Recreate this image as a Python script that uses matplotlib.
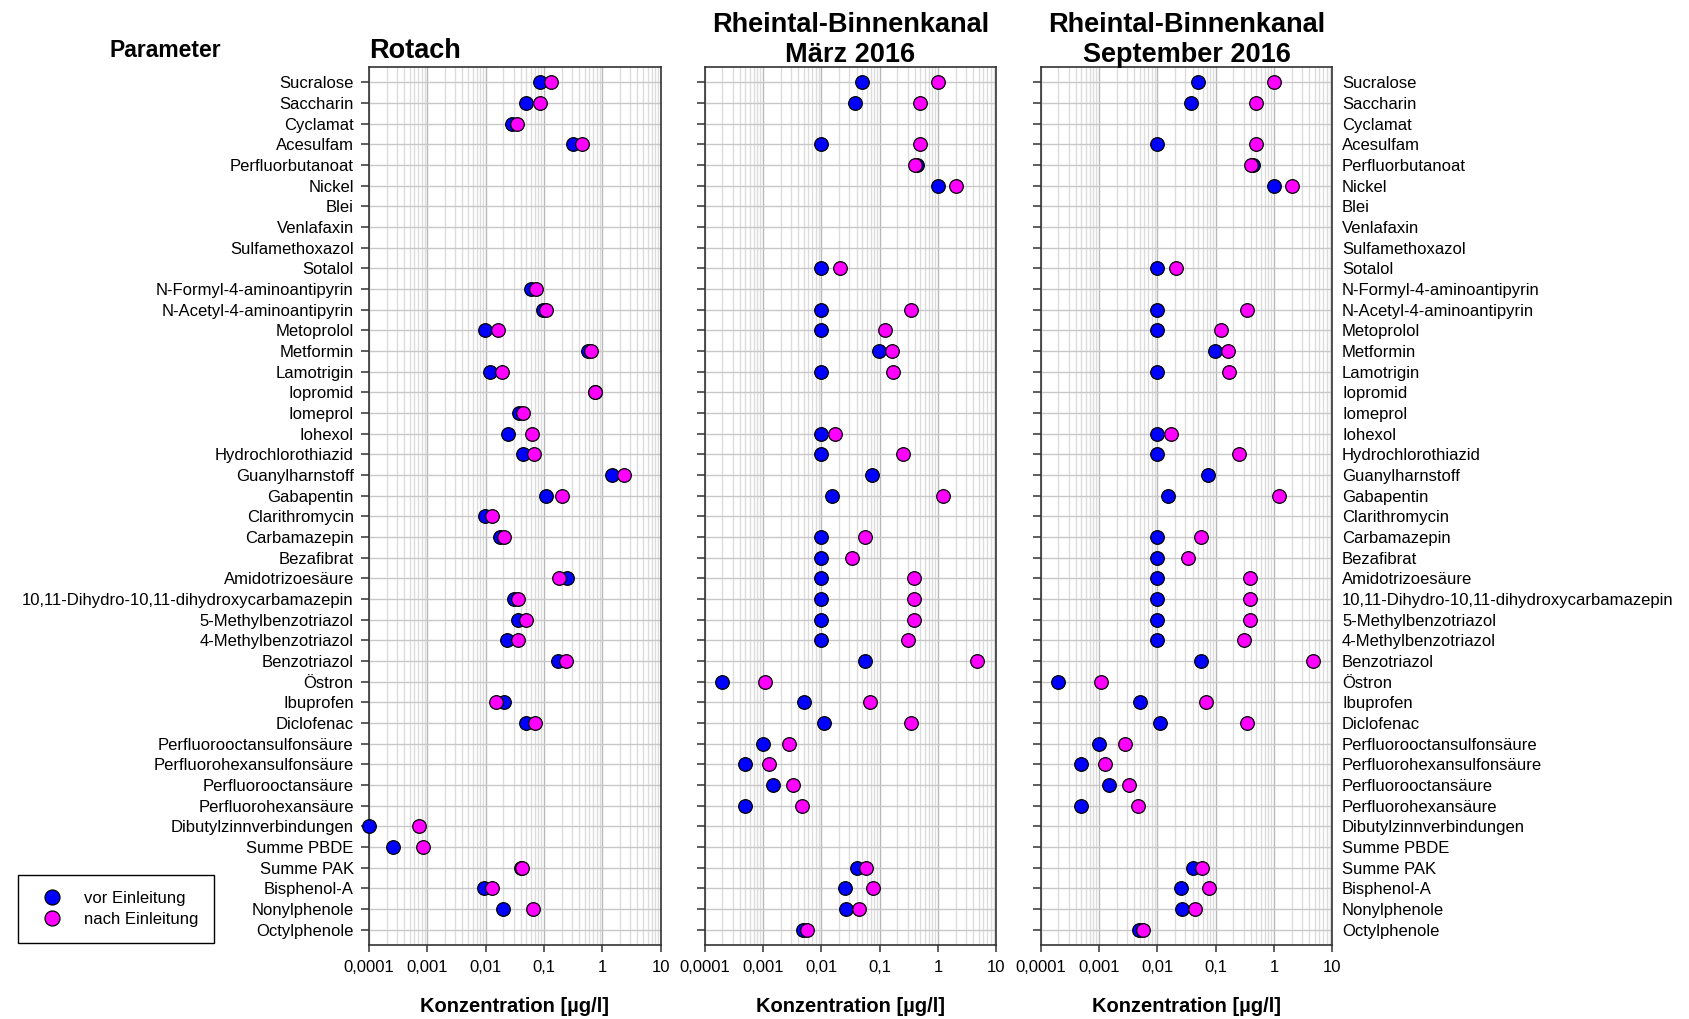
import numpy as np
import matplotlib
matplotlib.use("Agg")
import matplotlib.pyplot as plt
from matplotlib.ticker import LogLocator, NullFormatter

plt.rcParams['font.family'] = ['Liberation Sans', 'DejaVu Sans']

N = np.nan

parameter = ['Sucralose', 'Saccharin', 'Cyclamat', 'Acesulfam', 'Perfluorbutanoat',
             'Nickel', 'Blei', 'Venlafaxin', 'Sulfamethoxazol', 'Sotalol',
             'N-Formyl-4-aminoantipyrin', 'N-Acetyl-4-aminoantipyrin', 'Metoprolol',
             'Metformin', 'Lamotrigin', 'Iopromid', 'Iomeprol', 'Iohexol',
             'Hydrochlorothiazid', 'Guanylharnstoff', 'Gabapentin', 'Clarithromycin',
             'Carbamazepin', 'Bezafibrat', 'Amidotrizoesäure',
             '10,11-Dihydro-10,11-dihydroxycarbamazepin', '5-Methylbenzotriazol',
             '4-Methylbenzotriazol', 'Benzotriazol', 'Östron', 'Ibuprofen', 'Diclofenac',
             'Perfluorooctansulfonsäure', 'Perfluorohexansulfonsäure',
             'Perfluorooctansäure', 'Perfluorohexansäure', 'Dibutylzinnverbindungen',
             'Summe PBDE', 'Summe PAK', 'Bisphenol-A', 'Nonylphenole', 'Octylphenole']

# Konzentrationen in µg/l, N = nicht bestimmt
rotach_vor  = [0.085, 0.049, 0.028, 0.31, N, N, N, N, N, N,
               0.059, 0.095, 0.0099, 0.57, 0.012, 0.75, 0.037, 0.024, 0.043, 1.48,
               0.11, 0.0096, 0.0176, N, 0.25, 0.030, 0.036, 0.023, 0.174, N,
               0.021, 0.050, N, N, N, N, 0.0001, 0.00026, 0.041, 0.0095,
               0.020, N]
rotach_nach = [0.13, 0.085, 0.035, 0.44, N, N, N, N, N, N,
               0.073, 0.11, 0.016, 0.63, 0.019, 0.75, 0.044, 0.062, 0.068, 2.38,
               0.20, 0.013, 0.021, N, 0.178, 0.036, 0.050, 0.036, 0.24, N,
               0.0148, 0.069, N, N, N, N, 0.00072, 0.00085, 0.042, 0.013,
               0.065, N]

maerz_vor  = [0.050, 0.038, N, 0.010, 0.43, 1.01, N, N, N, 0.010,
              N, 0.010, 0.010, 0.098, 0.010, N, N, 0.010, 0.010, 0.073,
              0.0151, N, 0.010, 0.010, 0.010, 0.010, 0.010, 0.010, 0.0557, 0.0002,
              0.005, 0.011, 0.001, 0.0005, 0.0015, 0.0005, N, N, 0.0406, 0.025,
              0.0267, 0.0048]
maerz_nach = [0.98, 0.50, N, 0.49, 0.40, 2.0, N, N, N, 0.021,
              N, 0.34, 0.121, 0.162, 0.171, N, N, 0.017, 0.254, N,
              1.2, N, 0.055, 0.033, 0.38, 0.385, 0.38, 0.30, 4.6, 0.0011,
              0.067, 0.34, 0.0028, 0.00129, 0.0033, 0.0046, N, N, 0.0587, 0.0755,
              0.045, 0.0056]

sept_vor  = [0.050, 0.038, N, 0.010, 0.43, 1.01, N, N, N, 0.010,
             N, 0.010, 0.010, 0.098, 0.010, N, N, 0.010, 0.010, 0.073,
             0.0151, N, 0.010, 0.010, 0.010, 0.010, 0.010, 0.010, 0.0557, 0.0002,
             0.005, 0.011, 0.001, 0.0005, 0.0015, 0.0005, N, N, 0.0406, 0.025,
             0.0267, 0.0048]
sept_nach = [0.98, 0.50, N, 0.49, 0.40, 2.0, N, N, N, 0.021,
             N, 0.34, 0.121, 0.162, 0.171, N, N, 0.017, 0.254, N,
             1.2, N, 0.055, 0.033, 0.38, 0.385, 0.38, 0.30, 4.6, 0.0011,
             0.067, 0.34, 0.0028, 0.00129, 0.0033, 0.0046, N, N, 0.0587, 0.0755,
             0.045, 0.0056]

titel = ['Rotach', 'Rheintal-Binnenkanal\nMärz 2016', 'Rheintal-Binnenkanal\nSeptember 2016']
xticks = [0.0001, 0.001, 0.01, 0.1, 1, 10]
xticklabels = ['0,0001', '0,001', '0,01', '0,1', '1', '10']

W, H = 1690, 1019
fig = plt.figure(figsize=(W/100, H/100), dpi=100)

lefts = [369, 704.7, 1040.7]
ax_w = 291.7
ax_bottom = 945
ax_top = 67

daten = [(rotach_vor, rotach_nach), (maerz_vor, maerz_nach), (sept_vor, sept_nach)]
y = np.arange(len(parameter))

axes = []
for i in range(3):
    ax = fig.add_axes([lefts[i]/W, 1 - ax_bottom/H, ax_w/W, (ax_bottom - ax_top)/H])
    axes.append(ax)
    vor, nach = daten[i]
    ax.plot(vor, y, 'o', ls='none', ms=9.8, mfc='#0000ff', mec='black', mew=0.9,
            clip_on=False, zorder=3, label='vor Einleitung')
    ax.plot(nach, y, 'o', ls='none', ms=9.8, mfc='#ff00ff', mec='black', mew=0.9,
            clip_on=False, zorder=4, label='nach Einleitung')

    ax.set_xscale('log')
    ax.set_xlim(1e-4, 10)
    ax.set_xticks(xticks)
    ax.set_xticklabels(xticklabels, fontsize=12)
    ax.xaxis.set_minor_locator(LogLocator(base=10, subs=np.arange(2, 10), numticks=20))
    ax.xaxis.set_minor_formatter(NullFormatter())
    ax.tick_params(axis='x', which='minor', length=0)
    ax.tick_params(axis='x', which='major', direction='out', length=5, width=1.1,
                   color='#333333', pad=6)

    ax.set_ylim(len(parameter) - 0.25, -0.75)
    ax.set_yticks(y)
    ax.tick_params(axis='y', direction='out', length=6, width=1.1, color='#333333')

    ax.grid(True, which='minor', axis='x', color='#dcdcdc', lw=1.0, zorder=0)
    ax.grid(True, which='major', axis='x', color='#b9b9b9', lw=1.0, zorder=0)
    ax.grid(True, which='major', axis='y', color='#c8c8c8', lw=1.0, zorder=0)
    ax.set_axisbelow(True)

    for s in ax.spines.values():
        s.set_color('#333333')
        s.set_linewidth(1.2)

    cx = (lefts[i] + ax_w/2) / W
    fig.text(cx, 1 - 1012/H, 'Konzentration [µg/l]', ha='center', va='baseline',
             fontsize=14.5, fontweight='bold')

    if i == 0:
        ax.set_yticklabels(parameter, fontsize=12)
        ax.tick_params(axis='y', pad=5)
        fig.text(lefts[i]/W, 1 - 58/H, titel[i], ha='left', va='baseline',
                 fontsize=19.5, fontweight='bold')
    else:
        fig.text(cx, 1 - 62/H, titel[i], ha='center', va='baseline',
                 fontsize=19.5, fontweight='bold', linespacing=1.2)
        if i == 2:
            ax.set_yticklabels(parameter, fontsize=12)
            ax.tick_params(axis='y', left=True, right=False, labelleft=False,
                           labelright=True, pad=1)
        else:
            ax.set_yticklabels([])

fig.text(110/W, 1 - 57/H, 'Parameter', ha='left', va='baseline',
         fontsize=16.5, fontweight='bold')

handles, labels = axes[0].get_legend_handles_labels()
leg = fig.legend(handles, labels, loc='lower left', bbox_to_anchor=(18/W, 1 - 943/H),
                 borderaxespad=0, fontsize=12, frameon=True, fancybox=False,
                 edgecolor='black', framealpha=1, borderpad=0.95, handlelength=2.2,
                 handletextpad=0.8, labelspacing=0.36, numpoints=1, markerscale=1.1)
leg.get_frame().set_linewidth(1.0)

fig.savefig('out.png', dpi=100)
